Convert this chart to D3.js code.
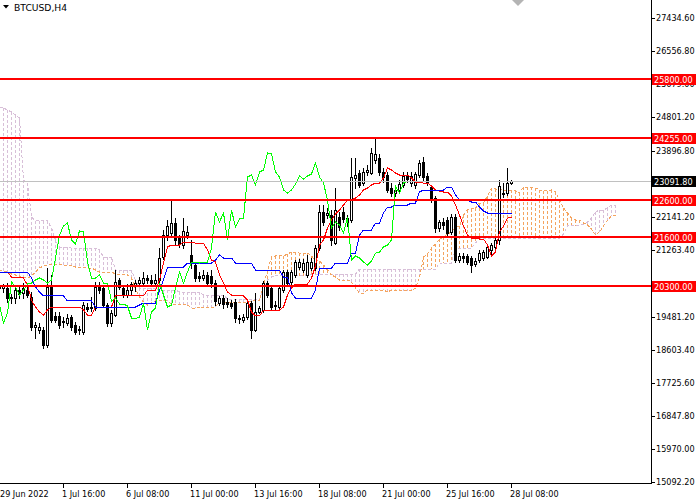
<!DOCTYPE html>
<html><head><meta charset="utf-8">
<script src="https://cdn.jsdelivr.net/npm/d3@7"></script>
<style>
html,body{margin:0;padding:0;background:#fff;}
svg{display:block;}
text{font-family:"DejaVu Sans",sans-serif;}
</style></head><body>
<svg id="c" width="700" height="500"></svg>
<script>
const symbolTitle = "BTCUSD,H4";
const timeLabels = ["29 Jun 2022","1 Jul 16:00","6 Jul 08:00","11 Jul 00:00","13 Jul 16:00","18 Jul 08:00","21 Jul 00:00","25 Jul 16:00","28 Jul 08:00"];
const timeLabelBars = [0,16,32,48,64,80,96,112,128];
const priceTicks = [27434.6,26556.8,25679.0,24801.2,23896.8,22141.2,21263.4,19481.2,18603.4,17725.6,16847.8,15970.0,15092.2];
const levels = [25800,24255,22600,21600,20300];
const bidPrice = 23091.8;
const chikouShift = 26;

const opens = [20332,20252,20252,19986,19986,20199,20119,20199,20013,19215,
19135,19135,18736,20279,19508,19508,19348,19321,19481,19268,
19135,19082,19747,19720,19720,20279,20252,19800,19321,19534,
20465,20252,20066,20199,20332,20385,20385,20518,20465,20385,
20465,21077,21662,21715,21981,21582,21396,21662,21130,20864,
20560,20518,20598,20572,20385,19853,19986,19880,19853,19880,
19454,19401,19481,19853,19135,19614,19667,20385,20252,19774,
19747,20199,20678,20412,20598,20811,20731,20598,20784,20784,
21316,22274,22194,22194,21449,22141,22274,22008,22061,23178,
23311,23045,23338,23311,23657,23710,23338,23258,22912,22779,
22859,22992,23232,23045,22992,23258,23604,23232,22939,22646,
21848,22008,22061,21742,22141,20997,21104,21104,21050,20891,
20997,21050,21077,21263,21343,21529,22753,22779,23045];
const highs = [20465,20359,20385,20093,20332,20279,20385,20306,20146,19348,
19321,19215,20784,20598,19614,19614,19481,19561,19534,19348,
19242,19880,19853,20013,20412,20412,20332,19853,19667,20731,
20518,20332,20359,20412,20465,20545,20678,20598,20598,20625,
21316,21795,22061,22593,22114,21662,22114,21902,21529,20944,
20678,20731,20678,20731,20465,20040,20066,19986,19933,19960,
19534,19561,19933,19907,20119,19774,20439,20439,20332,19907,
20306,20731,20731,20731,20997,21024,21024,21130,21050,21396,
22460,22460,22380,22327,22912,22274,22407,22194,23710,23710,
23391,23444,23524,23977,24243,23817,23444,23338,23045,22966,
23125,23338,23338,23338,23338,23657,23737,23311,22992,22700,
22061,22114,22141,22221,22221,21183,21183,21157,21104,21050,
21263,21263,21423,21449,21582,23125,23045,23444,23125];
const lows = [20119,20146,19880,19853,19853,19986,19986,20013,19135,18922,
19055,18656,18683,19348,19348,19188,19215,19268,19135,19029,
19029,19029,19641,19641,19667,20119,19774,19242,19242,19508,
20226,20013,20013,20093,20173,20306,20359,20385,20306,20332,
20412,21024,21529,21636,21396,21343,21316,21582,20784,20439,
20439,20465,20332,20279,19800,19800,19720,19747,19720,19348,
19321,19348,19428,18922,19109,19587,19614,20013,19667,19667,
19694,20146,20332,20359,20545,20758,20678,20545,20731,20731,
21263,21928,22114,21396,21423,21795,22008,21902,22008,22912,
22939,22992,23258,23285,23577,23258,23072,22806,22700,22700,
22779,22939,23072,22966,22912,23205,23125,22992,22540,21742,
21769,21822,21636,21689,20944,20944,20944,20891,20678,20838,
20944,20997,21050,21130,21290,21423,22673,22726,23019];
const closes = [20252,20306,19986,20013,20199,20093,20252,20066,19215,19268,
19215,18736,20279,19401,19401,19268,19375,19454,19215,19082,
19150,19800,19694,19747,20279,20199,19800,19321,19587,20412,
20279,20066,20199,20359,20385,20465,20518,20465,20385,20465,
21050,21662,21902,21981,21529,21423,21769,21742,20944,20518,
20518,20598,20385,20385,19907,19986,19827,19827,19774,19454,
19440,19481,19853,19135,19614,19720,20385,20066,19747,19800,
20252,20678,20385,20678,20944,20944,20917,20944,20944,21316,
22274,22008,22247,21529,22327,21875,22088,22114,23205,23258,
22992,23338,23391,23844,23817,23338,23205,22859,22779,22859,
23019,23232,23152,23232,23285,23577,23205,23045,22593,21848,
22008,21928,21715,22141,20997,21104,21050,20944,20864,20971,
21183,21210,21343,21396,21529,22966,22779,23045,23091.8];

const tenkan = [20678,20678,20678,20545,20545,20545,20518,20332,19933,19747,
19614,19534,19667,19747,19747,19747,19747,19747,19747,19747,
19747,19667,19534,19534,19747,19747,19747,19747,19747,20040,
20040,20040,20040,20040,20040,20040,20040,20199,20199,20199,
20465,20917,21343,21396,21396,21396,21476,21476,21476,21449,
21449,21449,21263,20997,20944,20598,20385,20146,20066,20040,
20040,20040,19933,19614,19508,19508,19667,19667,19667,19667,
19667,19747,20066,20252,20359,20359,20359,20359,20518,20838,
21396,21529,21848,22061,22221,22327,22460,22593,22593,22646,
22726,22859,22912,22992,23045,23045,23178,23444,23391,23311,
23258,23258,23258,23178,23072,23072,23045,23045,22966,22859,
22833,22806,22806,22700,22460,22194,21902,21662,21582,21582,
21556,21556,21396,21104,21210,21742,21902,22114,22141];
const kijun = [20678,20678,20678,20678,20678,20678,20678,20678,20518,20279,
20146,20040,20040,20040,20040,20040,20040,19907,19907,19907,
19907,19907,19907,19907,19747,19747,19747,19747,19747,19747,
19747,19747,19747,19747,19747,19800,19853,19853,19853,19853,
20199,20465,20811,20811,20811,20811,20811,20917,20917,20917,
20917,20917,20917,20917,20997,21130,21050,21050,21050,20917,
20917,20917,20917,20917,20731,20731,20731,20731,20731,20731,
20731,20545,20545,20119,19986,19986,19986,19986,19986,20199,
20784,20784,20784,20784,20917,20917,20917,20917,21183,21183,
21662,21795,21795,21795,21981,21981,22247,22407,22407,22460,
22460,22460,22460,22513,22513,22806,22859,22859,22859,22859,
22859,22859,22939,22939,22726,22593,22593,22593,22540,22540,
22407,22301,22247,22247,22247,22247,22247,22247,22247];
const spanA = [20731,20705,20678,20625,20598,20572,20545,20518,20572,20678,
20784,20838,20864,20891,20891,20891,20864,20838,20838,20811,
20811,20811,20784,20784,20731,20678,20678,20678,20678,20625,
20625,20625,20598,20518,20226,20013,19880,19800,19853,19907,
19907,19907,19907,19827,19827,19827,19827,19800,19720,19720,
19747,19747,19747,19747,19747,19907,19880,19880,19880,19880,
19880,19880,19880,19907,19907,19907,20332,20705,21077,21104,
21104,21104,21157,21210,21210,21183,21183,21183,21104,20971,
20971,20864,20731,20598,20545,20465,20465,20465,20412,20252,
20119,20119,20199,20199,20199,20199,20199,20146,20199,20199,
20173,20173,20173,20173,20252,20518,21077,21157,21316,21423,
21556,21609,21689,21742,21875,21902,22194,22327,22354,22380,
22513,22513,22700,22912,22886,22886,22859,22859,22859,22833,
22779,22939,22939,22939,22912,22859,22833,22833,22859,22806,
22593,22380,22247,22114,22061,22061,21981,21928,21822,21662,
21742,21902,22061,22168,22194];
const spanB = [25041,25041,24987,24934,24854,24774,23125,23045,22141,22035,
22035,22035,22035,21848,21529,21343,21343,21343,21316,21316,
21316,21316,21316,21316,21316,21263,21077,21077,21077,20731,
20731,20731,20731,20731,20465,20252,20252,20252,20252,20252,
20199,20199,20199,20199,20199,20146,20146,20146,20146,20146,
20146,20066,20066,20066,20066,20066,20066,19960,19960,19960,
19960,19960,19960,19960,19960,19960,20199,20465,20545,20572,
20572,20572,20572,20572,20572,20572,20572,20625,20625,20625,
20625,20625,20625,20625,20625,20625,20625,20625,20625,20625,
20758,20758,20758,20758,20758,20758,20758,20758,20758,20758,
20758,20758,20758,20758,20758,20758,20758,20758,20758,20758,
20917,20917,20917,20917,21316,21316,21316,21316,21316,21449,
21582,21582,21582,21582,21582,21582,21582,21582,21582,21582,
21582,21582,21582,21582,21582,21582,21582,21582,21582,21582,
21582,21689,21902,21902,21902,21928,21955,22008,22114,22274,
22327,22327,22380,22460,22460];

const svg = d3.select("#c");
const plotR = 651, plotB = 483;
const x = d3.scaleLinear().domain([0, 154]).range([-0.5, 615.5]);
const y = d3.scaleLinear().domain([15092.2, 27434.6]).range([482, 18]);
const sy = v => Math.round(y(v));

svg.append("rect").attr("width",700).attr("height",500).attr("fill","#fff");
svg.append("defs").append("clipPath").attr("id","plot")
  .append("rect").attr("x",0).attr("y",0).attr("width",plotR).attr("height",plotB);
const g = svg.append("g").attr("clip-path","url(#plot)");

const SANDY = "#F4A460", THISTLE = "#D8BFD8";
// cloud hatch
g.append("g").attr("shape-rendering","crispEdges").selectAll("line")
  .data(d3.range(spanA.length)).join("line")
  .attr("x1", i=>x(i)).attr("x2", i=>x(i))
  .attr("y1", i=>Math.min(sy(spanA[i]), sy(spanB[i])))
  .attr("y2", i=>Math.max(sy(spanA[i]), sy(spanB[i])))
  .attr("stroke", i=> spanA[i] >= spanB[i] ? SANDY : THISTLE)
  .attr("stroke-width",1).attr("stroke-dasharray","3,2");

const line = d3.line().x(d=>x(d[0])).y(d=>y(d[1]));
function drawLine(vals, color, dash) {
  const p = g.append("path").datum(vals.map((v,i)=>[i,v]))
    .attr("d", line).attr("fill","none").attr("stroke",color).attr("stroke-width",1)
    .attr("shape-rendering","crispEdges");
  if (dash) p.attr("stroke-dasharray", dash);
}
drawLine(spanB, THISTLE, "3,2");
drawLine(spanA, SANDY, "3,2");

// candles
const cg = g.append("g").attr("shape-rendering","crispEdges");
const idx = d3.range(opens.length);
cg.selectAll("line.w").data(idx).join("line").attr("class","w")
  .attr("x1", i=>x(i)).attr("x2", i=>x(i))
  .attr("y1", i=>sy(highs[i])).attr("y2", i=>sy(lows[i])+1)
  .attr("stroke","#000").attr("stroke-width",1);
cg.selectAll("rect.b").data(idx).join("rect").attr("class","b")
  .each(function(i){
    const o = opens[i], c = closes[i];
    const top = sy(Math.max(o,c)), bot = sy(Math.min(o,c));
    const r = d3.select(this);
    if (c > o && bot - top >= 2) {
      r.attr("x", x(i)-1).attr("y", top+0.5).attr("width",2).attr("height", bot-top)
       .attr("fill","#fff").attr("stroke","#000").attr("stroke-width",1);
    } else {
      r.attr("x", x(i)-1.5).attr("y", top).attr("width",3).attr("height", Math.max(1, bot-top+1))
       .attr("fill","#000");
    }
  });

drawLine(tenkan, "#FF0000");
drawLine(kijun, "#0000FF");
drawLine(d3.range(0, closes.length - chikouShift).map(j=>closes[j+chikouShift]), "#00FF00");

// bid line
g.append("line").attr("x1",0).attr("x2",plotR).attr("y1",sy(bidPrice)+0.5).attr("y2",sy(bidPrice)+0.5)
  .attr("stroke","#C0C0C0").attr("stroke-width",1).attr("shape-rendering","crispEdges");
// level lines
g.selectAll("line.lv").data(levels).join("line").attr("class","lv")
  .attr("x1",0).attr("x2",plotR).attr("y1",d=>sy(d)).attr("y2",d=>sy(d))
  .attr("stroke","#FF0000").attr("stroke-width",2).attr("shape-rendering","crispEdges");

// chart shift marker
svg.append("path").attr("d","M512,0 L524,0 L518,6 Z").attr("fill","#B4B4B4");

// axes frame
svg.append("line").attr("x1",plotR+0.5).attr("x2",plotR+0.5).attr("y1",0).attr("y2",plotB+1)
  .attr("stroke","#000").attr("shape-rendering","crispEdges");
svg.append("line").attr("x1",0).attr("x2",plotR+1).attr("y1",plotB+0.5).attr("y2",plotB+0.5)
  .attr("stroke","#000").attr("shape-rendering","crispEdges");

const FS = "8.1px";
// price ticks
const pt = svg.append("g");
pt.selectAll("line").data(priceTicks).join("line")
  .attr("x1",652).attr("x2",655).attr("y1",d=>sy(d)+0.5).attr("y2",d=>sy(d)+0.5)
  .attr("stroke","#000").attr("shape-rendering","crispEdges");
pt.selectAll("text").data(priceTicks).join("text")
  .attr("x",656).attr("y",d=>y(d)+3).attr("font-size",FS).attr("fill","#000")
  .text(d=>d.toFixed(2));

// level labels
function tag(v, bg) {
  const yy = sy(v);
  svg.append("rect").attr("x",652).attr("y",yy-5).attr("width",44).attr("height",11).attr("fill",bg);
  svg.append("text").attr("x",654).attr("y",yy+3.5).attr("font-size",FS).attr("fill","#fff").text(v.toFixed(2));
}
levels.forEach(v=>tag(v,"#FF0000"));
tag(bidPrice,"#000");

// time axis
const tg = svg.append("g");
tg.selectAll("line").data(timeLabelBars).join("line")
  .attr("x1",b=>x(b)).attr("x2",b=>x(b)).attr("y1",plotB+1).attr("y2",plotB+5)
  .attr("stroke","#000").attr("shape-rendering","crispEdges");
tg.selectAll("text").data(timeLabelBars).join("text")
  .attr("x",b=>Math.max(0, x(b)-1.5)).attr("y",497).attr("font-size",FS).attr("fill","#000")
  .text((b,i)=>timeLabels[i]);

// title
svg.append("path").attr("d","M3,5 L9,5 L6,8.5 Z").attr("fill","#000");
svg.append("text").attr("x",14).attr("y",10.5).attr("font-size","9.2px").attr("fill","#000").text(symbolTitle);
</script>
</body></html>
